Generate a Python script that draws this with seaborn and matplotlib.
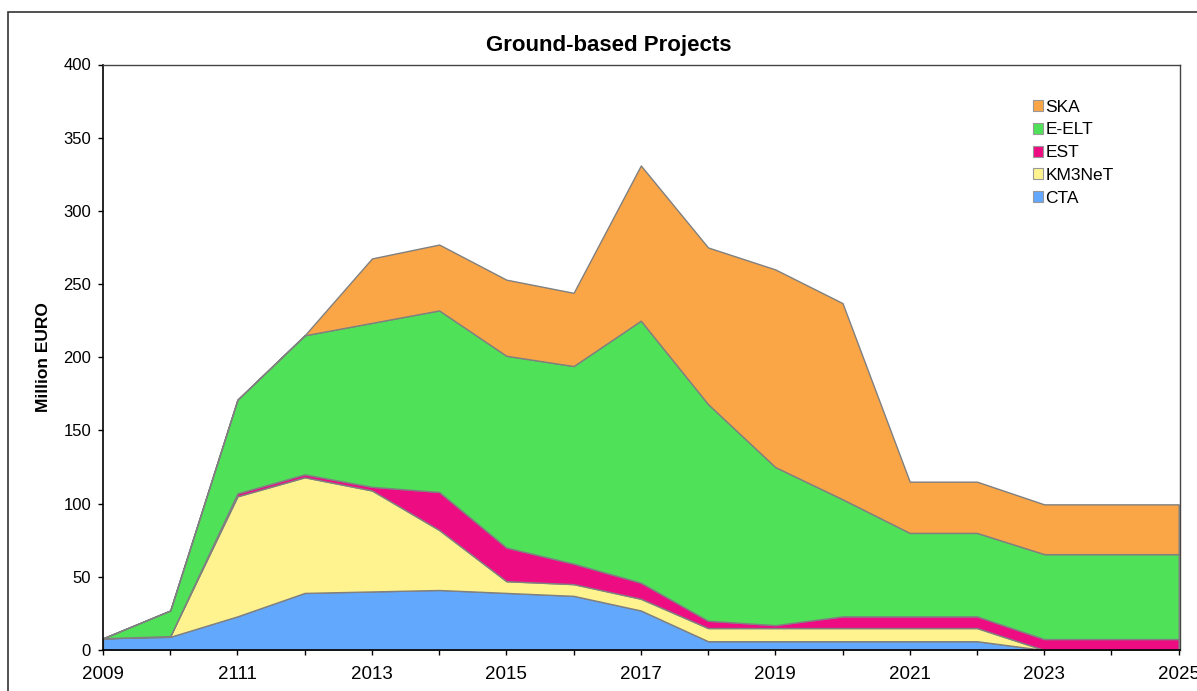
import matplotlib
matplotlib.use("Agg")
import matplotlib.pyplot as plt
import seaborn as sns
from matplotlib.patches import Rectangle, Patch

# Jahre und Projektbudgets (Mio. EUR)
years = list(range(2009, 2026))
cta = [8, 9, 23, 39, 40, 41, 39, 37, 27, 6, 6, 6, 6, 6, 0, 0, 0]
km3net = [0, 0.5, 82, 79, 69, 41, 8, 8, 8, 9, 9, 9, 9, 9, 0, 0, 0]
est = [0, 0, 2, 2, 2.5, 26, 23, 14, 11, 5, 2, 8, 8, 8, 7.5, 7.5, 7.5]
eelt = [0, 17.5, 64, 95, 112, 124, 131, 135, 179, 148, 108, 80, 57, 57, 58, 58, 58]
ska = [0, 0, 0, 0, 44, 45, 52, 50, 106, 107, 135, 134, 35, 35, 34, 34, 34]

series_names = ["CTA", "KM3NeT", "EST", "E-ELT", "SKA"]
series_colors = ["#62a8fc", "#fff38f", "#ee0c83", "#4fe158", "#fba646"]
tick_years = [2009, 2011, 2013, 2015, 2017, 2019, 2021, 2023, 2025]
tick_labels = ["2009", "2111", "2013", "2015", "2017", "2019", "2021", "2023", "2025"]

sns.set_theme(style="white")
plt.rcParams["font.family"] = ["Liberation Sans", "DejaVu Sans"]
plt.rcParams["text.color"] = "black"
plt.rcParams["axes.labelcolor"] = "black"
plt.rcParams["xtick.color"] = "black"
plt.rcParams["ytick.color"] = "black"

fig = plt.figure(figsize=(11.97, 6.91), dpi=100)
ax = fig.add_axes([103 / 1197, 41 / 691, 1077 / 1197, 585.5 / 691])

ax.stackplot(years, cta, km3net, est, eelt, ska, colors=series_colors,
             edgecolor="#808080", linewidth=1.0, labels=series_names)

ax.set_xlim(2009, 2025.02)
ax.set_ylim(0, 400)
ax.set_yticks(range(0, 401, 50))
ax.set_xticks(years, minor=True)
ax.set_xticks(tick_years)
ax.set_xticklabels(tick_labels, fontsize=13.5)
ax.tick_params(axis="y", labelsize=12, direction="out", length=3.6, width=1, left=True, pad=5)
ax.tick_params(axis="x", which="both", direction="out", length=3.6, width=1, bottom=True, pad=8)

for side in ["left", "bottom"]:
    ax.spines[side].set_color("black")
    ax.spines[side].set_linewidth(1.2)
for side in ["top", "right"]:
    ax.spines[side].set_color("#444444")
    ax.spines[side].set_linewidth(1.0)

ax.set_ylabel("Million EURO", fontsize=12.5, fontweight="bold", labelpad=9)
fig.text(609 / 1197, 1 - 45 / 691, "Ground-based Projects", ha="center", va="center",
         fontsize=16, fontweight="bold")

# Legende in umgekehrter Reihenfolge wie im Original
handles = [Patch(facecolor=c, edgecolor="#999999", linewidth=0.8)
           for c in series_colors[::-1]]
leg = ax.legend(handles, series_names[::-1], loc="upper left",
                bbox_to_anchor=(0.8635, 0.94), frameon=False, fontsize=12.5,
                handlelength=0.6, handleheight=0.6, handletextpad=0.1,
                labelspacing=0.45, borderaxespad=0, borderpad=0)

# Rahmen um die gesamte Grafik
fig.patches.append(Rectangle((8 / 1197, -0.1), 1.2, 1 - 12 / 691 + 0.1,
                             transform=fig.transFigure, fill=False,
                             edgecolor="#333333", linewidth=1.2))

fig.savefig("out.png", dpi=100)
